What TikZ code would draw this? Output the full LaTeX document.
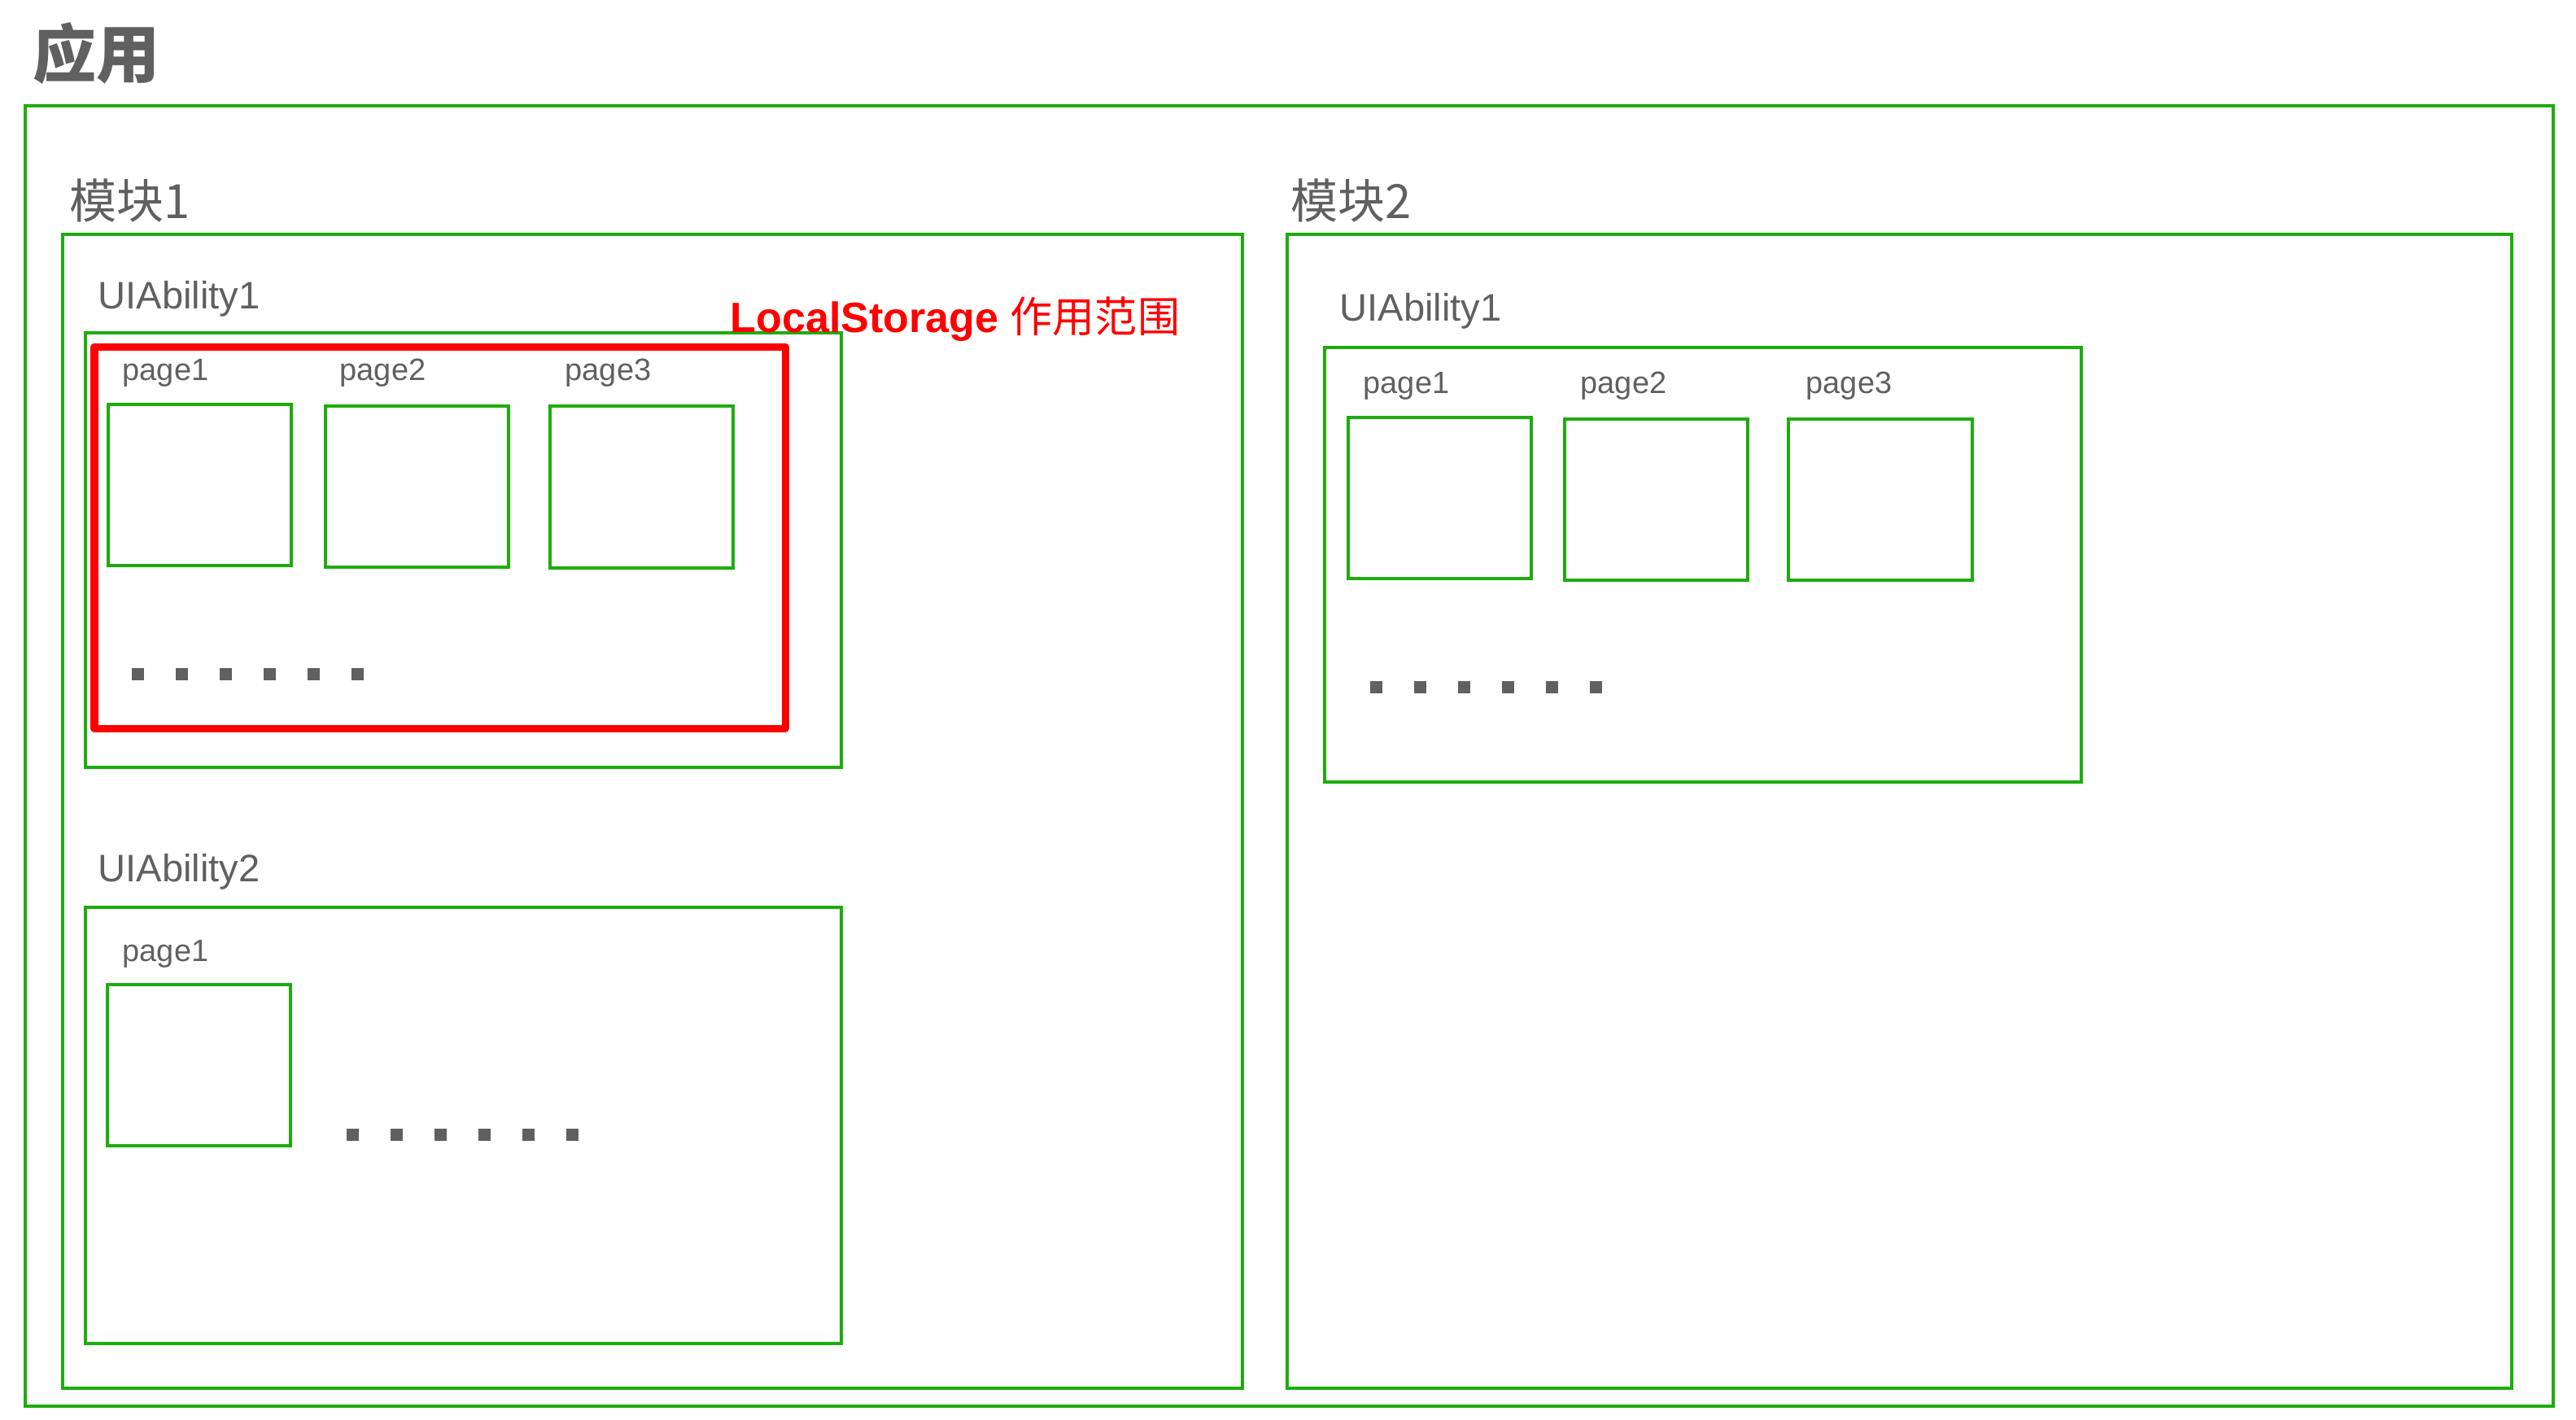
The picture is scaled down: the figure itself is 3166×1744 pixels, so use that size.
\documentclass[tikz,border=0pt]{standalone}
\usepackage{fontspec}
\setmainfont{Liberation Sans}
\newfontfamily\cjk{Noto Sans CJK SC}
\usetikzlibrary{fit}
\definecolor{gr}{RGB}{28,173,12}
\definecolor{tx}{RGB}{96,96,96}
\definecolor{rd}{RGB}{255,0,0}
\begin{document}
\begin{tikzpicture}[x=0.01cm,y=-0.01cm,
  gbox/.style={draw=gr, line width=0.04cm, inner sep=0pt},
  rbox/.style={draw=rd, line width=0.09cm, inner sep=0pt, line join=round},
  lbl/.style={anchor=base west, inner sep=0pt, text=tx},
  abil/.style={lbl, font=\fontsize{13.4}{16}\selectfont},
  pg/.style={lbl, font=\fontsize{10.8}{13}\selectfont},
  modl/.style={lbl, font=\cjk\fontsize{16.5}{20}\selectfont},
  dotsq/.style={fill=tx}
]
\useasboundingbox (0,0) rectangle (3166,1744);

% outer application box
\node[gbox, fit={(31,130) (3138,1728)}] (app) {};
\node[lbl, font=\cjk\bfseries\fontsize{22.2}{26}\selectfont] (apptitle) at (40,95) {应用};

% module 1
\node[gbox, fit={(77,288) (1527,1706)}] (m1) {};
\node[modl] (m1t) at (85,268) {模块1};

% module 1 / UIAbility1
\node[gbox, fit={(105,409) (1034,943)}] (m1a1) {};
\node[abil] (m1a1t) at (120,379) {UIAbility1};
\node[gbox, fit={(133,497) (358,695)}] (m1a1p1) {};
\node[gbox, fit={(400,499) (625,697)}] (m1a1p2) {};
\node[gbox, fit={(676,499) (901,698)}] (m1a1p3) {};
\node[pg] (m1a1p1t) at (150,467) {page1};
\node[pg] (m1a1p2t) at (417,467) {page2};
\node[pg] (m1a1p3t) at (694,467) {page3};
\foreach \i in {0,...,5} \fill[dotsq] ({162+54*\i},821) rectangle +(15,15);

% LocalStorage scope
\node[rbox, fit={(116,426) (965,895)}] (scope) {};
\node[anchor=base west, inner sep=0pt, text=rd, font=\fontsize{14.8}{18}\selectfont] (scopet) at (897,408) {\textbf{LocalStorage} {\cjk 作用范围}};

% module 1 / UIAbility2
\node[gbox, fit={(105,1115) (1034,1651)}] (m1a2) {};
\node[abil] (m1a2t) at (120,1083) {UIAbility2};
\node[gbox, fit={(132,1210) (357,1408)}] (m1a2p1) {};
\node[pg] (m1a2p1t) at (150,1181) {page1};
\foreach \i in {0,...,5} \fill[dotsq] ({426+54*\i},1387) rectangle +(15,15);

% module 2
\node[gbox, fit={(1582,288) (3087,1706)}] (m2) {};
\node[modl] (m2t) at (1586,268) {模块2};

% module 2 / UIAbility1
\node[gbox, fit={(1628,427) (2558,961)}] (m2a1) {};
\node[abil] (m2a1t) at (1646,394) {UIAbility1};
\node[gbox, fit={(1657,513) (1882,711)}] (m2a1p1) {};
\node[gbox, fit={(1923,515) (2148,713)}] (m2a1p2) {};
\node[gbox, fit={(2198,515) (2424,713)}] (m2a1p3) {};
\node[pg] (m2a1p1t) at (1675,483) {page1};
\node[pg] (m2a1p2t) at (1942,483) {page2};
\node[pg] (m2a1p3t) at (2219,483) {page3};
\foreach \i in {0,...,5} \fill[dotsq] ({1684+54*\i},837) rectangle +(15,15);
\end{tikzpicture}
\end{document}
